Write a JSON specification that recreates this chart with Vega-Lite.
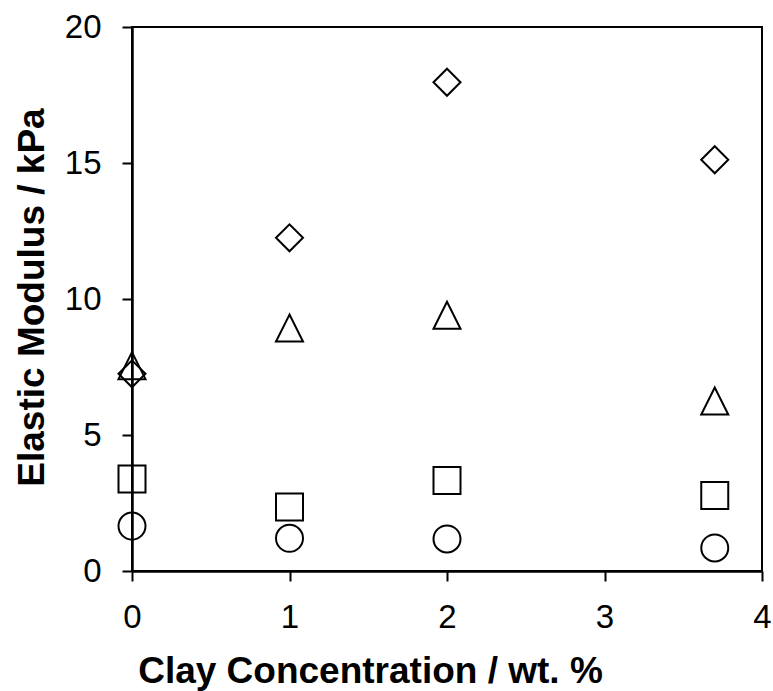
{
  "$schema": "https://vega.github.io/schema/vega-lite/v6.json",
  "width": 630,
  "height": 544,
  "autosize": {"type": "none"},
  "padding": {"left": 132, "top": 27, "right": 11, "bottom": 120},
  "background": "white",
  "config": {
    "view": {"stroke": "black", "strokeWidth": 2},
    "font": "Liberation Sans"
  },
  "data": {
    "values": [
      {"clay": 0, "modulus": 7.25, "series": "D"},
      {"clay": 1, "modulus": 12.25, "series": "D"},
      {"clay": 2, "modulus": 17.97, "series": "D"},
      {"clay": 3.7, "modulus": 15.12, "series": "D"},
      {"clay": 0, "modulus": 7.55, "series": "T"},
      {"clay": 1, "modulus": 8.93, "series": "T"},
      {"clay": 2, "modulus": 9.4, "series": "T"},
      {"clay": 3.7, "modulus": 6.25, "series": "T"},
      {"clay": 0, "modulus": 3.38, "series": "S"},
      {"clay": 1, "modulus": 2.35, "series": "S"},
      {"clay": 2, "modulus": 3.33, "series": "S"},
      {"clay": 3.7, "modulus": 2.78, "series": "S"},
      {"clay": 0, "modulus": 1.65, "series": "C"},
      {"clay": 1, "modulus": 1.2, "series": "C"},
      {"clay": 2, "modulus": 1.18, "series": "C"},
      {"clay": 3.7, "modulus": 0.85, "series": "C"}
    ]
  },
  "mark": {"type": "point", "filled": false, "size": 729, "strokeWidth": 2, "color": "black", "opacity": 1},
  "encoding": {
    "x": {
      "field": "clay",
      "type": "quantitative",
      "scale": {"domain": [0, 4], "nice": false, "zero": false},
      "axis": {
        "title": "Clay Concentration / wt. %",
        "values": [0, 1, 2, 3, 4],
        "grid": false,
        "domainColor": "black",
        "domainWidth": 2.5,
        "tickColor": "black",
        "tickWidth": 2,
        "tickSize": 10,
        "labelFontSize": 33,
        "labelColor": "black",
        "labelPadding": 20,
        "labelFlush": false,
        "titleFontSize": 37,
        "titleFontWeight": "bold",
        "titleColor": "black",
        "titleX": 238,
        "titleY": 111,
        "titleAlign": "center",
        "titleBaseline": "alphabetic"
      }
    },
    "y": {
      "field": "modulus",
      "type": "quantitative",
      "scale": {"domain": [0, 20], "nice": false, "zero": false},
      "axis": {
        "title": "Elastic Modulus / kPa",
        "values": [0, 5, 10, 15, 20],
        "grid": false,
        "domainColor": "black",
        "domainWidth": 2.5,
        "tickColor": "black",
        "tickWidth": 2,
        "tickSize": 10,
        "labelFontSize": 33,
        "labelColor": "black",
        "labelPadding": 21,
        "labelFlush": false,
        "titleFontSize": 37,
        "titleFontWeight": "bold",
        "titleColor": "black",
        "titleAngle": -90,
        "titleX": -89,
        "titleY": 270,
        "titleAlign": "center",
        "titleBaseline": "alphabetic"
      }
    },
    "shape": {
      "field": "series",
      "type": "nominal",
      "scale": {
        "domain": ["D", "T", "S", "C"],
        "range": ["diamond", "M0,-1L-1,1L1,1Z", "square", "circle"]
      },
      "legend": null
    }
  }
}
